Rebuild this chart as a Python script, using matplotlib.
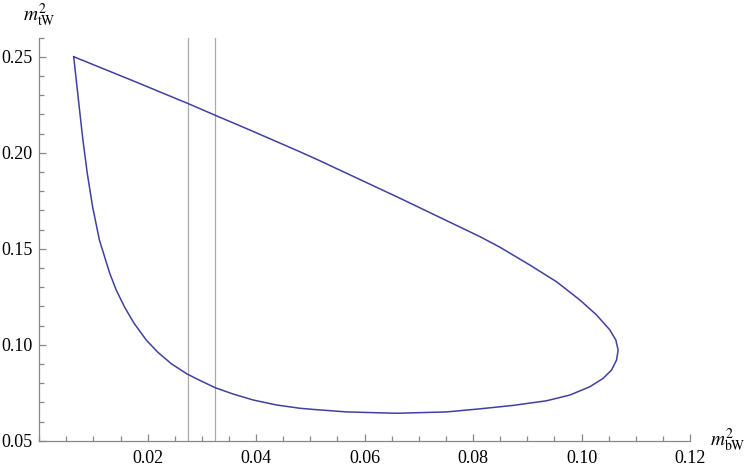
import matplotlib.pyplot as plt
from matplotlib.ticker import MultipleLocator

plt.rcParams['font.family'] = ['Liberation Serif', 'DejaVu Serif']
plt.rcParams['mathtext.fontset'] = 'stix'

# boundary, going round clockwise from the top-left corner
m2_bW = [0.00636, 0.01735, 0.02737, 0.03246, 0.03886, 0.04807, 0.05145, 0.06651,
         0.08126, 0.08494, 0.09047, 0.09539, 0.09969, 0.10277, 0.10522, 0.10633,
         0.10675, 0.10645, 0.10553, 0.10399, 0.10153, 0.09784, 0.09355, 0.08740,
         0.08126, 0.07512, 0.06590, 0.05668, 0.05053, 0.04807, 0.04378, 0.03947,
         0.03578, 0.03246, 0.02964, 0.02730, 0.02440, 0.02190, 0.01975, 0.01750,
         0.01570, 0.01420, 0.01300, 0.01110, 0.00984, 0.00886, 0.00806, 0.00737,
         0.00636]
m2_tW = [0.2500, 0.2374, 0.2257, 0.2195, 0.2118, 0.2005, 0.1962, 0.1763,
         0.1563, 0.1508, 0.1415, 0.1328, 0.1233, 0.1155, 0.1077, 0.1024,
         0.0972, 0.0920, 0.0868, 0.0825, 0.0781, 0.0738, 0.0708, 0.0684,
         0.0666, 0.0650, 0.0643, 0.0650, 0.0663, 0.0669, 0.0686, 0.0712,
         0.0743, 0.0776, 0.0814, 0.0847, 0.0900, 0.0960, 0.1024, 0.1111,
         0.1198, 0.1285, 0.1372, 0.1545, 0.1719, 0.1893, 0.2066, 0.2240,
         0.2500]

cut_lines = [0.02737, 0.03246]

x_ticks = [0.02, 0.04, 0.06, 0.08, 0.10, 0.12]
y_ticks = [0.05, 0.10, 0.15, 0.20, 0.25]

fig = plt.figure(figsize=(7.47, 4.69), dpi=100)
ax = fig.add_axes([0.0525, 0.0603, 0.8712, 0.8597])

for xc in cut_lines:
    ax.axvline(xc, color='#aaaaaa', lw=0.9)
ax.plot(m2_bW, m2_tW, color='#4040a0', lw=1.1)

ax.set_xlim(0, 0.12)
ax.set_ylim(0.05, 0.26)

for side in ['top', 'right']:
    ax.spines[side].set_visible(False)
for side in ['left', 'bottom']:
    ax.spines[side].set_color('#888888')
    ax.spines[side].set_linewidth(0.9)

ax.set_xticks(x_ticks, [f"{v:.2f}" for v in x_ticks])
ax.set_yticks(y_ticks, [f"{v:.2f}" for v in y_ticks])
ax.xaxis.set_minor_locator(MultipleLocator(0.005))
ax.yaxis.set_minor_locator(MultipleLocator(0.01))
ax.tick_params(which='both', direction='in', color='#888888', width=0.9,
               labelsize=13)
ax.tick_params(which='major', length=5)
ax.tick_params(which='minor', length=3.5)
ax.tick_params(axis='x', pad=7)
ax.tick_params(axis='y', pad=5)

ax.text(0.0, 1.02, r'$m_{\mathrm{tW}}^{2}$', transform=ax.transAxes,
        ha='center', va='bottom', fontsize=14)
ax.text(1.03, 0.0, r'$m_{\mathrm{bW}}^{2}$', transform=ax.transAxes,
        ha='left', va='center', fontsize=14)

fig.savefig('out.png')
